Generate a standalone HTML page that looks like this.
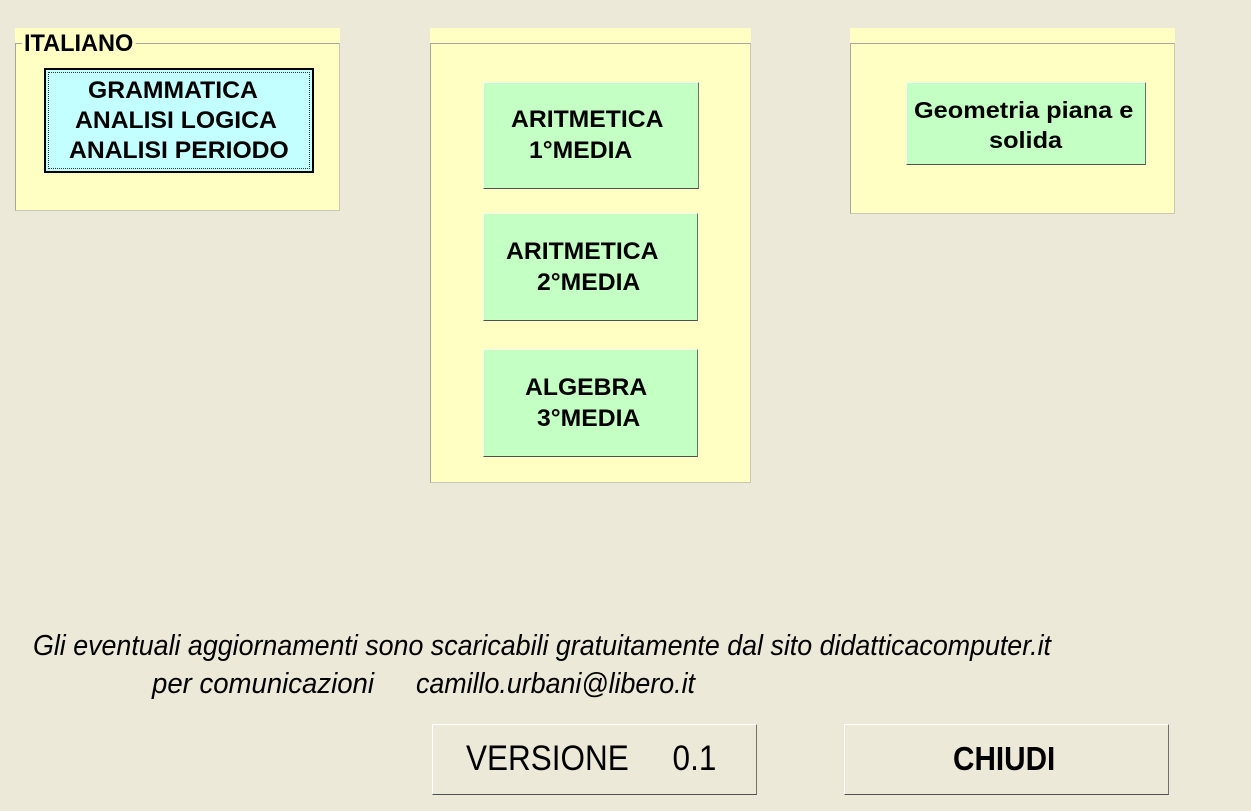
<!DOCTYPE html>
<html><head><meta charset="utf-8"><style>
body{margin:0;width:1251px;height:811px;background:#ece9d8;position:relative;overflow:hidden;font-family:"Liberation Sans",Arial,sans-serif}
.y{position:absolute;background:#ffffc4}
.f{position:absolute;border:1px solid #a8a89a;border-right-color:#c8c8b8;border-bottom-color:#c8c8b8}
.b{position:absolute;box-sizing:border-box;background:#c4ffc4;border:1px solid;border-color:#f0fff0 #707070 #505050 #f0fff0;color:#000}
.t{position:absolute;font-weight:bold;font-size:24px;line-height:30px;white-space:nowrap;transform-origin:0 50%;transform:scaleX(1.03)}
.g{position:absolute;box-sizing:border-box;background:#ece9d8;border:1px solid;border-color:#fff #707070 #505050 #fff}
</style></head><body>
<div class="y" style="left:15px;top:28px;width:325px;height:183px"></div>
<div class="f" style="left:15px;top:43px;width:323px;height:166px"></div>
<div style="position:absolute;left:22px;top:30px;padding:0 2px;background:#ffffc4;font-size:24px;font-weight:bold;line-height:28px;transform-origin:0 50%;transform:scaleX(0.98)">ITALIANO</div>
<div class="b" style="left:44px;top:68px;width:270px;height:105px;background:#c4ffff;border:2px solid #000;outline:1px dotted #333;outline-offset:-5px;"></div>
<div class="t" style="left:88px;top:76px">GRAMMATICA</div>
<div class="t" style="left:75px;top:106px">ANALISI LOGICA</div>
<div class="t" style="left:69px;top:136px">ANALISI PERIODO</div>

<div class="y" style="left:430px;top:28px;width:321px;height:455px"></div>
<div class="f" style="left:430px;top:43px;width:319px;height:438px"></div>
<div class="b" style="left:483px;top:82px;width:216px;height:107px"></div>
<div class="t" style="left:511px;top:105px">ARITMETICA</div>
<div class="t" style="left:529px;top:136px">1°MEDIA</div>
<div class="b" style="left:483px;top:213px;width:215px;height:108px"></div>
<div class="t" style="left:506px;top:237px">ARITMETICA</div>
<div class="t" style="left:537px;top:268px">2°MEDIA</div>
<div class="b" style="left:483px;top:349px;width:215px;height:108px"></div>
<div class="t" style="left:525px;top:373px">ALGEBRA</div>
<div class="t" style="left:537px;top:404px">3°MEDIA</div>

<div class="y" style="left:850px;top:28px;width:325px;height:186px"></div>
<div class="f" style="left:850px;top:43px;width:323px;height:169px"></div>
<div class="b" style="left:906px;top:82px;width:240px;height:83px"></div>
<div class="t" style="left:914px;top:95px;font-size:23px;transform:scaleX(1.1)">Geometria piana e</div>
<div class="t" style="left:989px;top:125px;font-size:23px;transform:scaleX(1.1)">solida</div>

<svg style="position:absolute;left:0;top:0" width="1251" height="811">
<g font-family="Liberation Sans, Arial, sans-serif" font-style="italic" font-size="29" fill="#000" xml:space="preserve" style="white-space:pre">
<text x="33" y="655" textLength="1018" lengthAdjust="spacingAndGlyphs">Gli eventuali aggiornamenti sono scaricabili gratuitamente dal sito  didatticacomputer.it</text>
<text x="152" y="693" textLength="222" lengthAdjust="spacingAndGlyphs">per  comunicazioni</text>
<text x="416" y="693" textLength="279" lengthAdjust="spacingAndGlyphs">camillo.urbani@libero.it</text>
</g></svg>

<div class="g" style="left:432px;top:724px;width:325px;height:71px"></div>
<div style="position:absolute;left:466px;top:738px;font-size:35px;line-height:42px;white-space:pre;transform-origin:0 50%;transform:scaleX(0.9)">VERSIONE     0.1</div>
<div class="g" style="left:844px;top:724px;width:325px;height:71px"></div>
<div style="position:absolute;left:953px;top:738px;font-size:33px;font-weight:bold;line-height:42px;transform-origin:0 50%;transform:scaleX(0.9)">CHIUDI</div>
</body></html>
